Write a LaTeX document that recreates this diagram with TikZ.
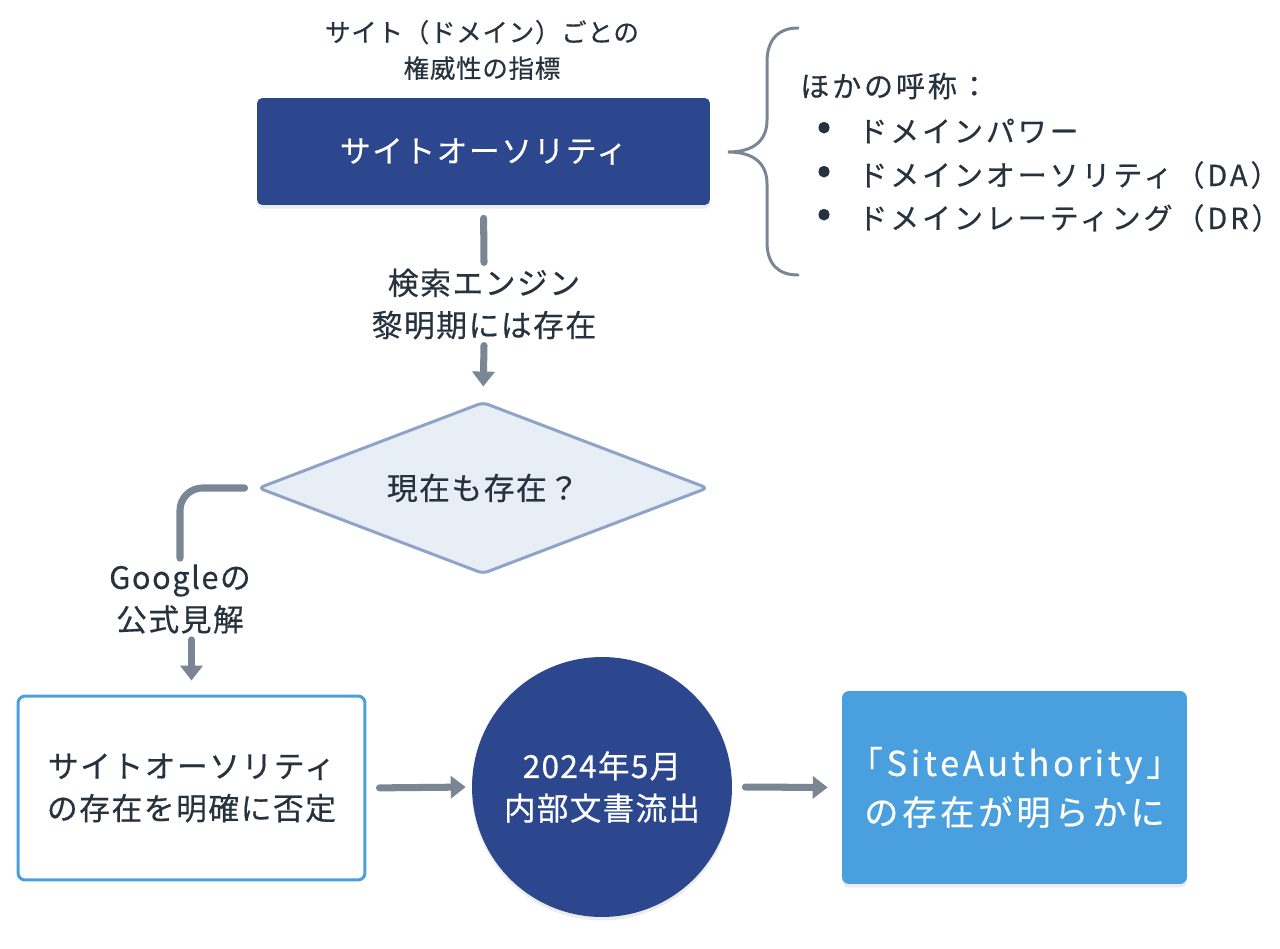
\documentclass[tikz,border=0pt]{standalone}
\usepackage{fontspec}
\setmainfont[LetterSpace=5,FakeBold=0.5]{Noto Sans CJK JP}
\newfontfamily\capfamily[LetterSpace=3,FakeBold=0.5]{Noto Sans CJK JP}
\newfontfamily\listfamily[LetterSpace=10,FakeBold=0.5]{Noto Sans CJK JP}
\newfontfamily\leakfamily[LetterSpace=4,FakeBold=0.5]{Noto Sans CJK JP}
\newfontfamily\foundfamily[LetterSpace=11,FakeBold=0.5]{Noto Sans CJK JP}
\usetikzlibrary{arrows.meta,calc,shapes.geometric,shadows}
\definecolor{navy}{HTML}{2C478E}
\definecolor{sky}{HTML}{4AA0DE}
\definecolor{steel}{HTML}{7B8694}
\definecolor{rim}{HTML}{8FA3C9}
\definecolor{pale}{HTML}{E8EEF6}
\definecolor{ink}{HTML}{26323E}

\begin{document}
\begin{tikzpicture}[x=0.02cm,y=-0.02cm]
    \tikzstyle{every node}=[text=ink,font=\fontsize{17.5}{24}\selectfont]
    \tikzstyle{soft shadow}=[drop shadow={opacity=.15,shadow xshift=0pt,shadow yshift=-2pt}]
    \tikzstyle{dark box}=[rectangle,rounded corners=3pt,fill=navy,text=white,minimum width=9.06cm,minimum height=2.14cm,soft shadow]
    \tikzstyle{decision}=[diamond,draw=rim,fill=pale,line width=1.7pt,rounded corners=3pt,aspect=2.6,inner sep=0pt,minimum width=9cm,minimum height=3.44cm]
    \tikzstyle{light box}=[rectangle,rounded corners=4pt,draw=sky,line width=1.7pt,fill=white,align=center,minimum width=6.94cm,minimum height=3.68cm]
    \tikzstyle{leak node}=[circle,fill=navy,text=white,align=center,inner sep=0pt,minimum size=5.2cm,soft shadow,font=\leakfamily\fontsize{18}{24}\selectfont]
    \tikzstyle{blue box}=[rectangle,rounded corners=4pt,fill=sky,text=white,align=center,minimum width=6.9cm,minimum height=3.86cm,soft shadow,font=\foundfamily\fontsize{19.5}{28}\selectfont]
    \tikzstyle{list item}=[anchor=west,inner xsep=0pt,font=\listfamily\fontsize{16.5}{20}\selectfont]
    \tikzstyle{flow}=[draw=steel,line width=4pt,line cap=round]
    \tikzstyle{flow arrow}=[flow,-{Triangle[width=12.5pt,length=8.5pt]}]
    \useasboundingbox (0,0) rectangle (1280,949);

    % top part
    \node(cap)[align=center,font=\capfamily\fontsize{14.5}{20.5}\selectfont] at (482,50) {サイト（ドメイン）ごとの\\権威性の指標};
    \node(sa)[dark box] at (483.5,151.5) {サイトオーソリティ};
    \node(era)[align=center] at (484,304) {検索エンジン\\黎明期には存在};
    \node(now)[decision] at (483,488) {現在も存在？};

    % other names
    \draw[draw=steel,line width=1.7pt,line cap=round] (798,28) .. controls (778,28) and (767,40) .. (767,62) -- (767,120) .. controls (767,142) and (752,152) .. (728,152) .. controls (752,152) and (767,162) .. (767,184) -- (767,242) .. controls (767,264) and (778,275) .. (798,275);
    \node(alias)[list item] at (800,86) {ほかの呼称：};
    \node(b1)[list item,anchor=center,font=\fontsize{24}{24}\selectfont] at (824,131) {•};
    \node(d1)[list item] at (858,131) {ドメインパワー};
    \node(b2)[list item,anchor=center,font=\fontsize{24}{24}\selectfont] at (824,175) {•};
    \node(d2)[list item] at (858,175) {ドメインオーソリティ（DA）};
    \node(b3)[list item,anchor=center,font=\fontsize{24}{24}\selectfont] at (824,218) {•};
    \node(d3)[list item] at (858,218) {ドメインレーティング（DR）};

    % bottom row
    \node(goog)[align=center] at (180,599) {Googleの\\公式見解};
    \node(deny)[light box] at (191.5,788) {サイトオーソリティ\\の存在を明確に否定};
    \node(leak)[leak node] at (602,787) {2024年5月\\内部文書流出};
    \node(found)[blue box] at (1014.5,787.5) {「SiteAuthority」\\の存在が明らかに};

    \draw[flow,shorten <=0.26cm] (sa.south) -- (era.north);
    \draw[flow arrow,shorten >=0.28cm] (era.south) -- (now.north);
    \draw[flow,shorten <=0.24cm,rounded corners=0.45cm] (now.west) -| (goog.north);
    \draw[flow arrow,shorten >=0.28cm] (goog.south -| deny.north) -- (deny.north);
    \draw[flow arrow,shorten <=0.26cm,shorten >=0.12cm] (deny.east) -- (leak.west);
    \draw[flow arrow,shorten <=0.26cm,shorten >=0.28cm] (leak.east) -- (found.west);
\end{tikzpicture}
\end{document}
